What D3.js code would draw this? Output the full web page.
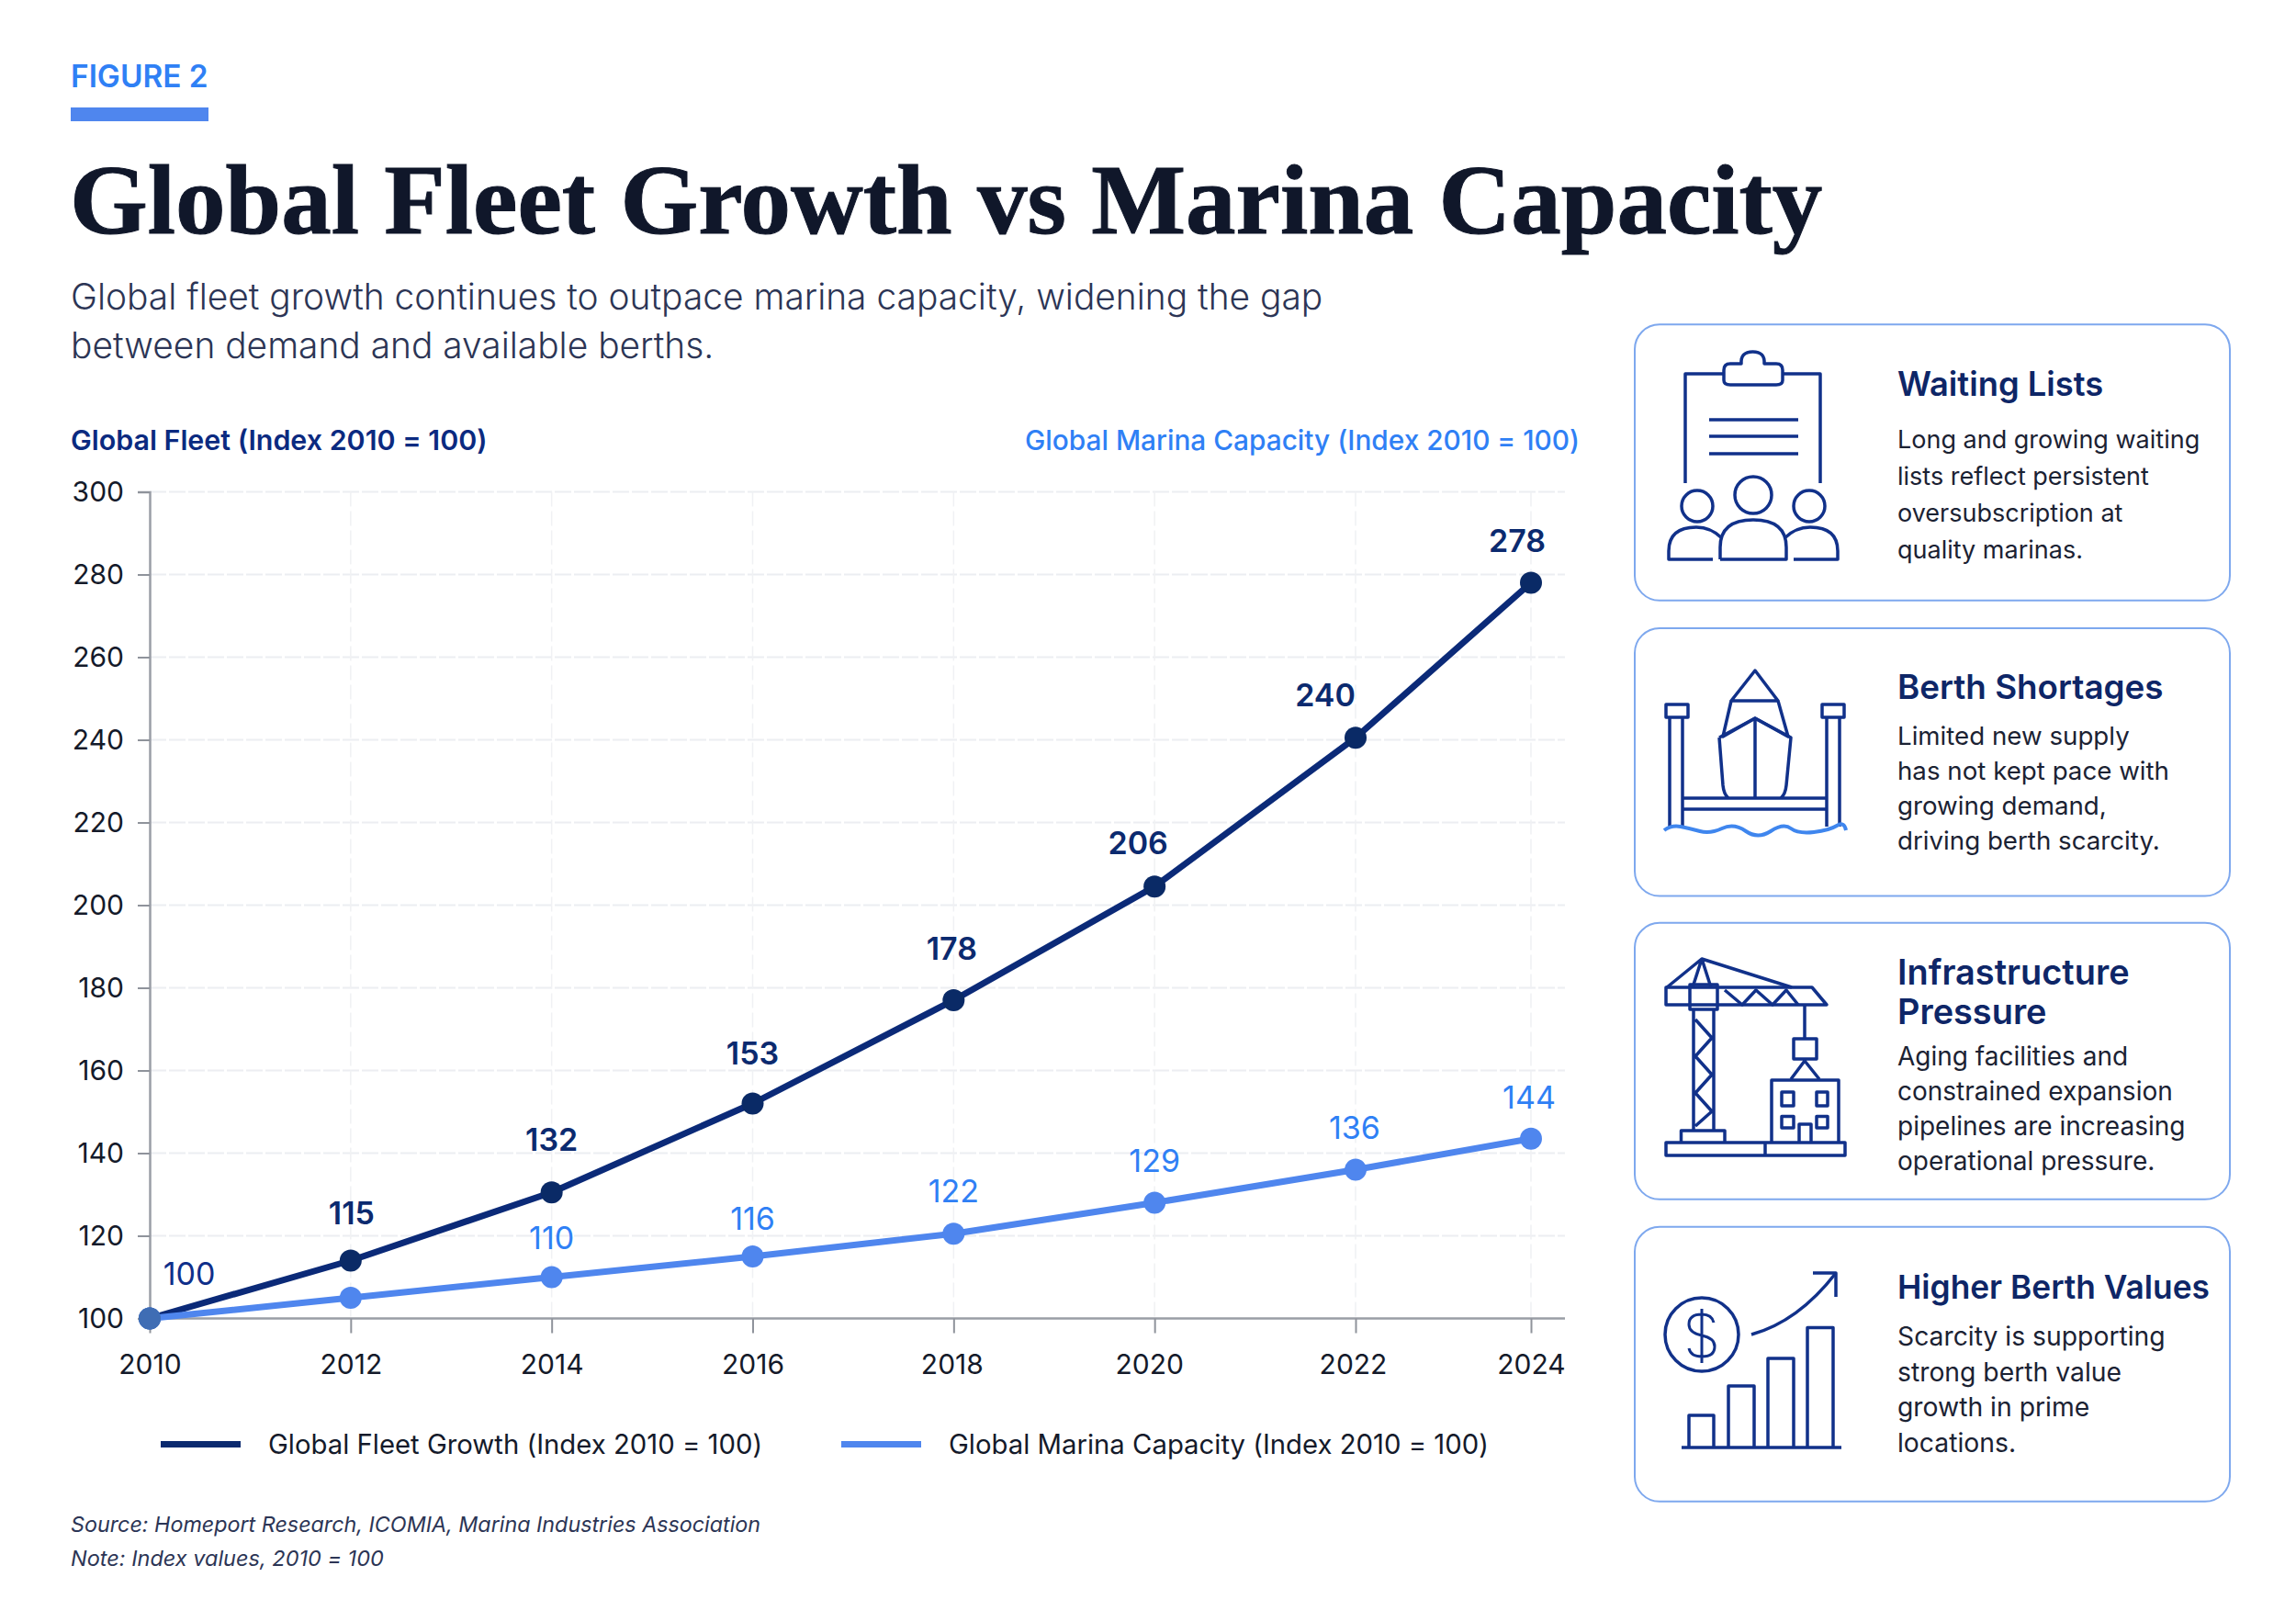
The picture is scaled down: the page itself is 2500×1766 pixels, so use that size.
<!DOCTYPE html>
<html>
<head>
<meta charset="utf-8">
<script src="https://cdnjs.cloudflare.com/ajax/libs/d3/7.8.5/d3.min.js"></script>
<style>
  html, body { margin: 0; padding: 0; background: #fff; }
  svg { display: block; }
  text { font-family: Inter, Lato, sans-serif; font-variant-ligatures: none; }
</style>
</head>
<body>
<svg id="chart" width="2500" height="1766"></svg>
<script>
var years = [2010, 2012, 2014, 2016, 2018, 2020, 2022, 2024];
var fleetValues = [100, 114, 130.5, 152, 177, 204.5, 240.5, 278];
var capacityValues = [100, 105, 110, 115, 120.5, 128, 136, 143.5];
var fleetLabels = ["100", "115", "132", "153", "178", "206", "240", "278"];
var capacityLabels = ["", "", "110", "116", "122", "129", "136", "144"];
var yTicks = [100, 120, 140, 160, 180, 200, 220, 240, 260, 280, 300];

var NAVY = "#0b2a6f", BLUE = "#4f86ee", LABEL_BLUE = "#2f80f5", INK = "#141a2a", SLATE = "#2c3555";

var svg = d3.select("#chart");

function addText(x, y, str, size, fill, weight, extra) {
  var t = svg.append("text").attr("x", x).attr("y", y).text(str)
    .style("font-size", size + "px").style("fill", fill).style("font-weight", weight || 400);
  if (extra) extra(t);
  return t;
}

// header
addText(77, 95, "FIGURE 2", 33.4, LABEL_BLUE, 600);
svg.append("rect").attr("x", 77).attr("y", 117).attr("width", 150).attr("height", 15).attr("fill", BLUE);
addText(76, 254, "Global Fleet Growth vs Marina Capacity", 109, "#10172a", 700, function(t) {
  t.style("font-family", '"Liberation Serif", serif').attr("stroke", "#10172a").attr("stroke-width", 1);
});
addText(77, 337, "Global fleet growth continues to outpace marina capacity, widening the gap", 38.9, SLATE, 300);
addText(77, 390, "between demand and available berths.", 38.9, SLATE, 300);
addText(77, 490, "Global Fleet (Index 2010 = 100)", 30.4, "#0b2a80", 600);
addText(1720, 490, "Global Marina Capacity (Index 2010 = 100)", 29.8, LABEL_BLUE, 500, function(t) { t.attr("text-anchor", "end"); });

// scales - the last interval is drawn narrower in the source
var x = d3.scaleLinear().domain([2010, 2022, 2024]).range([163, 1476, 1667]);
var y = d3.scaleLinear().domain([100, 300]).range([1435.5, 535.5]);

// grid
var grid = svg.append("g");
grid.selectAll(".h").data(yTicks.slice(1)).enter().append("line")
  .attr("x1", 163).attr("x2", 1704).attr("y1", y).attr("y2", y)
  .attr("stroke", "#eceef2").attr("stroke-width", 2).attr("stroke-dasharray", "18 3");
grid.selectAll(".v").data(years.slice(1)).enter().append("line")
  .attr("x1", x).attr("x2", x).attr("y1", 535.5).attr("y2", 1435.5)
  .attr("stroke", "#f0f1f4").attr("stroke-width", 1.5).attr("stroke-dasharray", "16 5");

// axes
var yAxis = d3.axisLeft(y).tickValues(yTicks).tickSize(13).tickPadding(15);
var xAxis = d3.axisBottom(x).tickValues(years).tickFormat(d3.format("d")).tickSize(16).tickPadding(23);

var gy = svg.append("g").attr("transform", "translate(163,0)").call(yAxis);
var gx = svg.append("g").attr("transform", "translate(0,1435.5)").call(xAxis);
gx.select(".domain").attr("d", "M163,0H1704");
svg.selectAll(".domain").attr("stroke", "#9a9ea6").attr("stroke-width", 2.5);
svg.selectAll(".tick line").attr("stroke", "#8f939b").attr("stroke-width", 2);
svg.selectAll(".tick text").style("font-size", "30px").style("fill", INK);
svg.selectAll(".tick text").attr("font-family", null);
gx.selectAll(".tick text").attr("dx", function(d) { return d == 2020 ? -6 : d == 2022 ? -3 : d == 2018 ? -2 : 0; });

// lines
var line = d3.line().x(function(d) { return x(d.year); }).y(function(d) { return y(d.value); });
function rows(values) { return years.map(function(yr, i) { return { year: yr, value: values[i] }; }); }

function drawSeries(values, color, dot) {
  svg.append("path").datum(rows(values)).attr("d", line).attr("fill", "none")
    .attr("stroke", color).attr("stroke-width", 7).attr("stroke-linejoin", "round");
  svg.selectAll(null).data(rows(values)).enter().append("circle")
    .attr("cx", function(d) { return x(d.year); }).attr("cy", function(d) { return y(d.value); })
    .attr("r", 12).attr("fill", dot);
}
drawSeries(fleetValues, "#0b2a78", "#0a2a66");
drawSeries(capacityValues, BLUE, "#4f86ee");
svg.append("circle").attr("cx", x(2010)).attr("cy", y(100)).attr("r", 12).attr("fill", "#3f6db4");

// value labels, nudged by hand to sit where the source puts them
var fleetDx = { 2010: 43, 2012: 1, 2014: 0, 2016: 0, 2018: -2, 2020: -18, 2022: -33, 2024: -15 };
var fleetDy = { 2010: -37, 2012: -40, 2014: -45, 2016: -43, 2018: -44, 2020: -35, 2022: -34, 2024: -34 };
var capacityDy = { 2014: -31, 2016: -29, 2018: -34, 2020: -34, 2022: -34, 2024: -33 };
years.forEach(function(yr, i) {
  var first = i === 0;
  addText(x(yr) + fleetDx[yr], y(fleetValues[i]) + fleetDy[yr], fleetLabels[i], 34,
    first ? "#0f2f8a" : NAVY, first ? 400 : 600, function(t) { t.attr("text-anchor", "middle"); });
  if (capacityLabels[i]) {
    addText(x(yr) + (yr == 2024 ? -2 : yr == 2022 ? -1 : 0), y(capacityValues[i]) + capacityDy[yr], capacityLabels[i], 34, LABEL_BLUE, 400,
      function(t) { t.attr("text-anchor", "middle"); });
  }
});

// legend
var legend = [
  { label: "Global Fleet Growth (Index 2010 = 100)", color: NAVY, x: 175 },
  { label: "Global Marina Capacity (Index 2010 = 100)", color: BLUE, x: 916 }
];
legend.forEach(function(d) {
  svg.append("rect").attr("x", d.x).attr("y", 1569).attr("width", 87).attr("height", 7).attr("fill", d.color);
  addText(d.x + 117, 1583, d.label, 29.3, INK, 400);
});

// footer
addText(77, 1668, "Source: Homeport Research, ICOMIA, Marina Industries Association", 23.3, SLATE, 400, function(t) { t.style("font-style", "italic"); });
addText(77, 1705, "Note: Index values, 2010 = 100", 23.5, SLATE, 400, function(t) { t.style("font-style", "italic"); });

// cards
var cards = [
  { y: 353.3, h: 300.5, title: ["Waiting Lists"], titleSize: 36.3, titleY: 431, bodyY: 488, lh: 40, bodySize: 27,
    body: ["Long and growing waiting", "lists reflect persistent", "oversubscription at", "quality marinas."], icon: iconClipboard },
  { y: 684, h: 291.5, title: ["Berth Shortages"], titleSize: 36.8, titleY: 761, bodyY: 811, lh: 38, bodySize: 27.7,
    body: ["Limited new supply", "has not kept pace with", "growing demand,", "driving berth scarcity."], icon: iconBoat },
  { y: 1004.8, h: 301, title: ["Infrastructure", "Pressure"], titleSize: 37.9, titleY: 1072, bodyY: 1160, lh: 38, bodySize: 28,
    body: ["Aging facilities and", "constrained expansion", "pipelines are increasing", "operational pressure."], icon: iconCrane },
  { y: 1335.8, h: 299, title: ["Higher Berth Values"], titleSize: 35.3, titleY: 1414, bodyY: 1465, lh: 38.5, bodySize: 28.3,
    body: ["Scarcity is supporting", "strong berth value", "growth in prime", "locations."], icon: iconValue }
];
cards.forEach(function(c) {
  svg.append("rect").attr("x", 1780).attr("y", c.y).attr("width", 648).attr("height", c.h).attr("rx", 27)
    .attr("fill", "#fff").attr("stroke", "#7ea8ee").attr("stroke-width", 2);
  c.title.forEach(function(s, i) { addText(2066, c.titleY + i * 43, s, c.titleSize, "#0e2667", 600); });
  c.body.forEach(function(s, i) { addText(2066, c.bodyY + i * c.lh, s, c.bodySize, "#1b2233", 400); });
  c.icon(svg.append("g").attr("fill", "none").attr("stroke", "#11318a").attr("stroke-width", 3.5).attr("stroke-linejoin", "round"));
});

function p(g, d) { return g.append("path").attr("d", d); }

function iconClipboard(g) {
  p(g, "M1835,526V407H1877M1941,407H1982V526");
  p(g, "M1877,403q0,-7 7,-7h12q-1,-13 12.5,-13t12.5,13h13q7,0 7,7v11q0,5 -7,5h-50q-7,0 -7,-5z");
  p(g, "M1861,457H1958M1861,475H1958M1861,494H1958");
  g.append("circle").attr("cx", 1909).attr("cy", 539).attr("r", 20);
  g.append("circle").attr("cx", 1848).attr("cy", 551).attr("r", 17);
  g.append("circle").attr("cx", 1970).attr("cy", 551).attr("r", 17);
  p(g, "M1865,609H1817V600q0,-26 30,-26q16,0 28,12");
  p(g, "M1873,609V596q0,-30 36,-30t36,30V609H1873");
  p(g, "M1953,609H2001V600q0,-26 -30,-26q-16,0 -28,12");
}

function iconBoat(g) {
  p(g, "M1814,767h24v14h-24zM1984,767h24v14h-24zM1818,781V900M1832,781V900M1989,781V900M2003,781V900");
  p(g, "M1885,763L1911,730L1936,763ZM1885,763L1876,802L1911,782L1947,802L1936,763");
  p(g, "M1872,803L1911,782L1950,803L1945,855Q1944,865 1939,869M1872,803L1876,855Q1877,865 1882,869M1911,782V869");
  p(g, "M1832,869H1989M1832,881H1989");
  g.append("path").attr("d", "M1812,904Q1820,898 1830,900T1851,905T1875,902T1901,905T1928,905T1950,902T1975,906T2000,899T2010,904")
    .attr("stroke", "#3f86ee").attr("stroke-width", 4);
}

function iconCrane(g) {
  p(g, "M1815,1075L1853,1044L1951,1075M1853,1044L1843,1075M1853,1044L1863,1075");
  p(g, "M1814,1075H1973L1989,1094H1814Z");
  p(g, "M1840,1072H1870V1099H1840Z");
  p(g, "M1844,1099V1231M1866,1099V1231M1846,1110L1864,1130L1846,1150L1864,1170L1846,1190L1864,1210L1846,1226");
  p(g, "M1878,1078L1897,1094L1912,1078L1930,1094L1945,1078L1958,1094");
  p(g, "M1965,1094V1131M1953,1131H1978V1153H1953ZM1965,1155L1950,1175M1965,1155L1981,1175");
  p(g, "M1929,1244V1176H2002V1244");
  p(g, "M1940,1189h13v15h-13zM1978,1189h12v15h-12zM1940,1215.5h13v12.5h-13zM1978,1215.5h12v12.5h-12zM1959,1244V1224h13v20");
  p(g, "M1830.5,1244V1231H1878V1244");
  p(g, "M1814,1244H2009V1258H1814ZM1922,1244V1258");
}

function iconValue(g) {
  g.append("circle").attr("cx", 1853).attr("cy", 1453).attr("r", 40);
  p(g, "M1866,1440q-2,-9 -13,-9q-14,0 -14,11q0,9 14,12q14,3 14,12q0,11 -14,11q-12,0 -14,-9M1853,1425V1484").attr("stroke-width", 3);
  p(g, "M1907,1453Q1958,1439 1999,1386");
  p(g, "M1974,1386H1999V1412");
  p(g, "M1839,1576V1541H1866V1576M1882,1576V1509H1910V1576M1925,1576V1479H1953V1576M1968,1576V1445.5H1996V1576");
  p(g, "M1831,1576H2005");
}
</script>
</body>
</html>
